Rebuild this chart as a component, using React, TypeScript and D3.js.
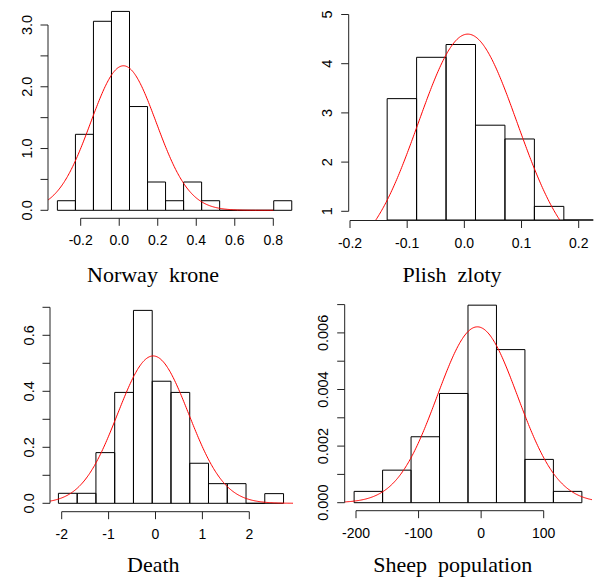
import React from "react";
import * as d3 from "d3";

// ---------- data ----------
const norwayEdges = [-0.321, -0.2274, -0.1338, -0.0402, 0.0534, 0.147, 0.2406, 0.3342, 0.4278, 0.5214, 0.615, 0.7086, 0.8022, 0.8958];
const norwayDensity = [0.155, 1.23, 3.06, 3.22, 1.68, 0.458, 0.155, 0.458, 0.155, 0, 0, 0, 0.155];
const norwayFit = { mean: 0.022, sd: 0.1705 };
const norwayXTicks = [-0.2, 0, 0.2, 0.4, 0.6, 0.8];
const norwayXLabels = ["-0.2", "0.0", "0.2", "0.4", "0.6", "0.8"];
const norwayYTicks = [0, 0.5, 1, 1.5, 2, 2.5, 3];
const norwayYLabelTicks = [0, 1, 2, 3];
const norwayYLabels = ["0.0", "1.0", "2.0", "3.0"];

const zlotyEdges = [-0.135, -0.0835, -0.032, 0.0195, 0.071, 0.1225, 0.174, 0.2255];
const zlotyDensity = [3.29, 4.13, 4.39, 2.75, 2.47, 1.1, 0.27];
const zlotyFit = { mean: 0.006, sd: 0.0867 };
const zlotyXTicks = [-0.2, -0.1, 0, 0.1, 0.2];
const zlotyXLabels = ["-0.2", "-0.1", "0.0", "0.1", "0.2"];
const zlotyYTicks = [1, 2, 3, 4, 5];
const zlotyYLabelTicks = [1, 2, 3, 4, 5];
const zlotyYLabels = ["1", "2", "3", "4", "5"];

const deathEdges = [-2.07, -1.67, -1.27, -0.87, -0.47, -0.07, 0.33, 0.73, 1.13, 1.53, 1.93, 2.33, 2.73];
const deathDensity = [0.0357, 0.0357, 0.181, 0.396, 0.689, 0.436, 0.396, 0.143, 0.0702, 0.0702, 0, 0.0345];
const deathFit = { mean: -0.05, sd: 0.758 };
const deathXTicks = [-2, -1, 0, 1, 2];
const deathXLabels = ["-2", "-1", "0", "1", "2"];
const deathYTicks = [0, 0.1, 0.2, 0.3, 0.4, 0.5, 0.6, 0.7];
const deathYLabelTicks = [0, 0.2, 0.4, 0.6];
const deathYLabels = ["0.0", "0.2", "0.4", "0.6"];

const sheepEdges = [-203, -157.5, -112, -66.5, -21, 24.5, 70, 115.5, 161];
const sheepDensity = [0.0004, 0.00115, 0.00233, 0.00386, 0.00698, 0.00541, 0.00153, 0.0004];
const sheepFit = { mean: -6, sd: 64.2 };
const sheepXTicks = [-200, -100, 0, 100];
const sheepXLabels = ["-200", "-100", "0", "100"];
const sheepYTicks = [0, 0.001, 0.002, 0.003, 0.004, 0.005, 0.006, 0.007];
const sheepYLabelTicks = [0, 0.002, 0.004, 0.006];
const sheepYLabels = ["0.000", "0.002", "0.004", "0.006"];

// ---------- layout ----------
type PanelCfg = {
  id: string;
  title: string;
  titleX: number;
  titleY: number;
  edges: number[];
  density: number[];
  fit: { mean: number; sd: number };
  xDomain: [number, number];
  xRange: [number, number];
  yDomain: [number, number];
  yRange: [number, number];
  plotLeft: number;
  plotRight: number;
  plotTop: number;
  plotBottom: number;
  xAxisY: number;
  curveTo?: number;
  xTicks: number[];
  xLabels: string[];
  yTicks: number[];
  yLabelTicks: number[];
  yLabels: string[];
};

const panels: PanelCfg[] = [
  {
    id: "nok", title: "Norway  krone", titleX: 153, titleY: 282,
    edges: norwayEdges, density: norwayDensity, fit: norwayFit,
    xDomain: [-0.2, 0.8], xRange: [80.7, 273.3], yDomain: [0, 3], yRange: [210.3, 25],
    plotLeft: 48, plotRight: 298, plotTop: 4, plotBottom: 218,
    xAxisY: 218.3, curveTo: 0.8,
    xTicks: norwayXTicks, xLabels: norwayXLabels,
    yTicks: norwayYTicks, yLabelTicks: norwayYLabelTicks, yLabels: norwayYLabels,
  },
  {
    id: "pln", title: "Plish  zloty", titleX: 452, titleY: 282,
    edges: zlotyEdges, density: zlotyDensity, fit: zlotyFit,
    xDomain: [-0.2, 0.2], xRange: [350, 578.7], yDomain: [1, 5], yRange: [211.3, 14.5],
    plotLeft: 348.7, plotRight: 597, plotTop: 0, plotBottom: 220,
    xAxisY: 220.5,
    xTicks: zlotyXTicks, xLabels: zlotyXLabels,
    yTicks: zlotyYTicks, yLabelTicks: zlotyYLabelTicks, yLabels: zlotyYLabels,
  },
  {
    id: "death", title: "Death", titleX: 153.3, titleY: 572,
    edges: deathEdges, density: deathDensity, fit: deathFit,
    xDomain: [-2, 2], xRange: [61.7, 249.3], yDomain: [0, 0.7], yRange: [503.3, 307.3],
    plotLeft: 50, plotRight: 293, plotTop: 292, plotBottom: 510,
    xAxisY: 511.7,
    xTicks: deathXTicks, xLabels: deathXLabels,
    yTicks: deathYTicks, yLabelTicks: deathYLabelTicks, yLabels: deathYLabels,
  },
  {
    id: "sheep", title: "Sheep  population", titleX: 452.8, titleY: 572,
    edges: sheepEdges, density: sheepDensity, fit: sheepFit,
    xDomain: [-200, 100], xRange: [356, 543.7], yDomain: [0, 0.007], yRange: [502.7, 304.6],
    plotLeft: 344.7, plotRight: 592, plotTop: 292, plotBottom: 509,
    xAxisY: 510.7,
    xTicks: sheepXTicks, xLabels: sheepXLabels,
    yTicks: sheepYTicks, yLabelTicks: sheepYLabelTicks, yLabels: sheepYLabels,
  },
];

const SANS = "'Liberation Sans', Arial, Helvetica, sans-serif";
const SERIF = "'Liberation Serif', 'Times New Roman', Times, serif";
const TICK = 7.5;
const AXIS = "#222";

function dnorm(x: number, m: number, s: number) {
  const z = (x - m) / s;
  return Math.exp(-0.5 * z * z) / (s * Math.sqrt(2 * Math.PI));
}

function Panel({ p }: { p: PanelCfg }) {
  const x = d3.scaleLinear().domain(p.xDomain).range(p.xRange);
  const y = d3.scaleLinear().domain(p.yDomain).range(p.yRange);
  const yBase = Math.max(0, y.invert(p.plotBottom));
  const axisX = p.plotLeft;

  const x0 = x.invert(p.plotLeft);
  const x1 = p.curveTo !== undefined ? p.curveTo : x.invert(p.plotRight);
  const xs = d3.range(0, 301).map((i) => x0 + ((x1 - x0) * i) / 300);
  const line = d3
    .line<number>()
    .x((v) => x(v))
    .y((v) => y(dnorm(v, p.fit.mean, p.fit.sd)));

  const clipId = `clip-${p.id}`;
  const yTop = y(p.yDomain[1]);
  const yBot = y(p.yDomain[0]);
  const xLeft = x(p.xTicks[0]);
  const xRight = x(p.xTicks[p.xTicks.length - 1]);

  return (
    <g>
      <defs>
        <clipPath id={clipId}>
          <rect x={p.plotLeft} y={p.plotTop} width={p.plotRight - p.plotLeft} height={p.plotBottom - p.plotTop + 1} />
        </clipPath>
      </defs>
      <g clipPath={`url(#${clipId})`}>
        {p.density.map((d, i) => {
          const top = y(Math.max(d, yBase));
          const bot = y(yBase);
          const xa = x(p.edges[i]);
          const xb = x(p.edges[i + 1]);
          return (
            <path
              key={i}
              d={`M${xa},${bot}V${top}H${xb}V${bot}Z`}
              fill="none"
              stroke="#000"
              strokeWidth={1}
            />
          );
        })}
        <path d={line(xs) || ""} fill="none" stroke="#ff0000" strokeWidth={1} />
      </g>
      {/* y axis */}
      <line x1={axisX} x2={axisX} y1={yBot} y2={yTop} stroke={AXIS} strokeWidth={1} />
      {p.yTicks.map((t, i) => (
        <line key={i} x1={axisX - TICK} x2={axisX} y1={y(t)} y2={y(t)} stroke={AXIS} strokeWidth={1} />
      ))}
      {p.yLabelTicks.map((t, i) => (
        <text
          key={i}
          transform={`translate(${axisX - 21.5 + 5},${y(t)}) rotate(-90)`}
          textAnchor="middle"
          fontFamily={SANS}
          fontSize={14.5}
          fill="#000"
        >
          {p.yLabels[i]}
        </text>
      ))}
      {/* x axis */}
      <line x1={xLeft} x2={xRight} y1={p.xAxisY} y2={p.xAxisY} stroke={AXIS} strokeWidth={1} />
      {p.xTicks.map((t, i) => (
        <line key={i} x1={x(t)} x2={x(t)} y1={p.xAxisY} y2={p.xAxisY + TICK} stroke={AXIS} strokeWidth={1} />
      ))}
      {p.xTicks.map((t, i) => (
        <text key={i} x={x(t)} y={p.xAxisY + 27} textAnchor="middle" fontFamily={SANS} fontSize={14} fill="#000">
          {p.xLabels[i]}
        </text>
      ))}
      <text
        x={p.titleX}
        y={p.titleY}
        textAnchor="middle"
        fontFamily={SERIF}
        fontSize={22}
        fill="#000"
        style={{ whiteSpace: "pre" }}
      >
        {p.title}
      </text>
    </g>
  );
}

export default function App() {
  return (
    <svg
      width={597}
      height={579}
      viewBox="0 0 597 579"
      style={{ position: "absolute", left: 0, top: 0, background: "#fff" }}
    >
      <rect x={0} y={0} width={597} height={579} fill="#fff" />
      {panels.map((p) => (
        <Panel key={p.id} p={p} />
      ))}
    </svg>
  );
}
